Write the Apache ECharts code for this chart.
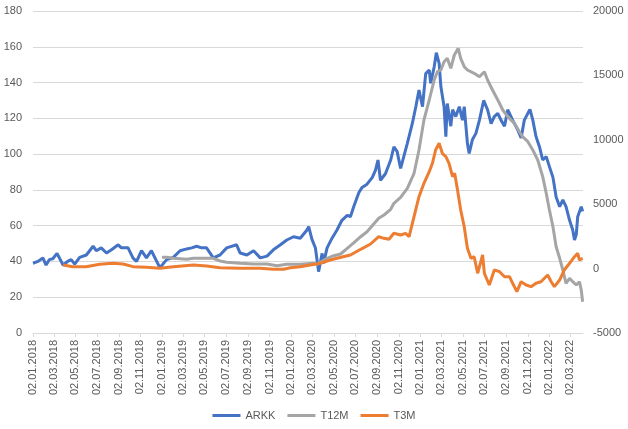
<!DOCTYPE html>
<html>
<head>
<meta charset="utf-8">
<script src="https://cdn.jsdelivr.net/npm/echarts@6/dist/echarts.min.js"></script>
<style>
  html, body { margin: 0; padding: 0; background: #fff; }
  #main { width: 628px; height: 429px; }
</style>
</head>
<body>
<div id="main"></div>
<script>
// ARKK kurs (venstre akse)
var arkk = [
  ['2018-01-02', 39], ['2018-01-16', 40], ['2018-01-30', 42], ['2018-02-08', 38], ['2018-02-17', 41],
  ['2018-02-27', 41.5], ['2018-03-11', 44.5], ['2018-03-28', 38], ['2018-04-10', 40], ['2018-04-20', 41],
  ['2018-04-30', 38.5], ['2018-05-14', 42.3], ['2018-06-02', 43.6], ['2018-06-21', 48.5], ['2018-06-30', 46],
  ['2018-07-14', 47.6], ['2018-07-29', 44.7], ['2018-08-12', 46.5], ['2018-08-31', 49.3], ['2018-09-09', 47.6],
  ['2018-09-28', 47.6], ['2018-10-12', 41.9], ['2018-10-22', 40], ['2018-11-05', 46], ['2018-11-19', 42],
  ['2018-12-03', 46], ['2018-12-18', 40], ['2018-12-27', 36.5], ['2019-01-15', 41], ['2019-02-03', 42.3],
  ['2019-02-22', 46], ['2019-03-13', 47], ['2019-03-27', 47.6], ['2019-04-10', 48.5], ['2019-04-24', 47.6],
  ['2019-05-08', 47.6], ['2019-05-27', 42], ['2019-06-15', 43.6], ['2019-07-04', 47.6], ['2019-08-01', 49.3],
  ['2019-08-11', 44.7], ['2019-08-30', 43.6], ['2019-09-18', 46], ['2019-10-07', 42], ['2019-10-26', 43],
  ['2019-11-13', 46.5], ['2019-12-03', 49.3], ['2019-12-21', 52], ['2020-01-09', 53.8], ['2020-01-28', 53],
  ['2020-02-16', 57.6], ['2020-02-21', 59.4], ['2020-03-01', 52.5], ['2020-03-11', 47.5], ['2020-03-20', 34.3],
  ['2020-03-30', 44.5], ['2020-04-03', 38.9], ['2020-04-13', 47.6], ['2020-04-27', 53], ['2020-05-11', 57.6],
  ['2020-05-25', 63], ['2020-06-09', 65.8], ['2020-06-18', 65], ['2020-06-28', 71], ['2020-07-12', 78.5],
  ['2020-07-21', 81.4], ['2020-08-04', 83.2], ['2020-08-19', 87], ['2020-08-28', 91], ['2020-09-04', 96.7],
  ['2020-09-11', 85.4], ['2020-09-25', 89], ['2020-10-10', 96.7], ['2020-10-19', 104], ['2020-10-28', 101.5],
  ['2020-11-07', 92], ['2020-11-16', 98.6], ['2020-11-26', 106], ['2020-12-10', 117], ['2020-12-20', 126.5],
  ['2020-12-29', 135.8], ['2021-01-08', 126.5], ['2021-01-17', 145], ['2021-01-27', 147], ['2021-01-31', 139.6],
  ['2021-02-10', 148.8], ['2021-02-16', 156.7], ['2021-02-24', 150.7], ['2021-03-01', 137.6], ['2021-03-10', 126.5],
  ['2021-03-15', 109.8], ['2021-03-19', 128.3], ['2021-03-29', 115.6], ['2021-04-03', 124.8], ['2021-04-12', 121],
  ['2021-04-22', 126.5], ['2021-05-01', 119], ['2021-05-06', 126.5], ['2021-05-15', 106], ['2021-05-20', 100.4],
  ['2021-05-29', 108], ['2021-06-08', 111.6], ['2021-06-18', 119], ['2021-06-30', 130], ['2021-07-11', 124.8],
  ['2021-07-21', 117], ['2021-07-30', 121], ['2021-08-09', 122.8], ['2021-08-18', 119], ['2021-08-28', 115.6],
  ['2021-09-06', 124.8], ['2021-09-20', 119], ['2021-10-04', 113.7], ['2021-10-14', 109], ['2021-10-23', 119],
  ['2021-11-02', 122.8], ['2021-11-08', 125], ['2021-11-16', 119], ['2021-11-25', 109.8], ['2021-12-05', 104],
  ['2021-12-14', 96.7], ['2021-12-24', 98.6], ['2022-01-02', 93], ['2022-01-12', 87], ['2022-01-21', 76],
  ['2022-01-31', 70.6], ['2022-02-09', 74.4], ['2022-02-18', 70.6], ['2022-02-28', 63], ['2022-03-09', 57.6],
  ['2022-03-14', 52], ['2022-03-19', 55], ['2022-03-23', 65], ['2022-04-02', 70.6], ['2022-04-06', 68]
];

// T12M (hoyre akse)
var t12m = [
  ['2019-01-02', 877], ['2019-01-15', 877], ['2019-02-03', 800], ['2019-03-13', 722], ['2019-04-01', 800],
  ['2019-05-08', 800], ['2019-05-27', 800], ['2019-06-15', 590], ['2019-07-04', 490], ['2019-08-11', 412],
  ['2019-09-18', 357], ['2019-10-26', 357], ['2019-11-23', 228], ['2019-12-21', 331], ['2020-01-28', 331],
  ['2020-03-06', 412], ['2020-03-15', 331], ['2020-04-13', 800], ['2020-05-02', 1002], ['2020-05-21', 1134],
  ['2020-06-09', 1576], ['2020-06-28', 2012], ['2020-07-17', 2477], ['2020-08-04', 2865], ['2020-08-23', 3463],
  ['2020-09-06', 3905], ['2020-09-21', 4161], ['2020-10-10', 4604], ['2020-10-19', 5070], ['2020-11-07', 5536],
  ['2020-11-26', 6235], ['2020-12-15', 7400], ['2020-12-29', 9208], ['2021-01-12', 11537], ['2021-01-27', 13090],
  ['2021-02-10', 14643], ['2021-02-19', 15288], ['2021-03-01', 15420], ['2021-03-10', 16065], ['2021-03-19', 16327],
  ['2021-03-29', 15550], ['2021-04-08', 16584], ['2021-04-19', 17105], ['2021-04-26', 16327], ['2021-05-06', 15676],
  ['2021-05-15', 15420], ['2021-06-03', 15163], ['2021-06-18', 14900], ['2021-07-02', 15288], ['2021-07-11', 14643],
  ['2021-07-25', 13866], ['2021-08-09', 13090], ['2021-08-23', 12314], ['2021-09-06', 11796], ['2021-09-25', 11278],
  ['2021-10-09', 10630], ['2021-10-18', 10242], ['2021-11-02', 9854], ['2021-11-16', 9208], ['2021-11-30', 8432],
  ['2021-12-14', 7138], ['2021-12-24', 5847], ['2022-01-02', 4550], ['2022-01-12', 3253], ['2022-01-21', 1700],
  ['2022-01-31', 800], ['2022-02-09', -109], ['2022-02-18', -1141], ['2022-02-28', -753], ['2022-03-09', -1017],
  ['2022-03-19', -1273], ['2022-03-28', -1017], ['2022-04-02', -1661], ['2022-04-06', -2570]
];

// T3M (hoyre akse)
var t3m = [
  ['2018-03-28', 279], ['2018-04-25', 150], ['2018-06-01', 150], ['2018-07-10', 331], ['2018-08-16', 412],
  ['2018-09-14', 357], ['2018-10-12', 150], ['2018-11-19', 98], ['2018-12-27', 21], ['2019-02-03', 150],
  ['2019-04-01', 279], ['2019-05-08', 201], ['2019-06-15', 72], ['2019-08-11', 21], ['2019-10-07', 21],
  ['2019-11-13', -54], ['2019-12-12', -54], ['2019-12-31', 72], ['2020-01-28', 150], ['2020-02-25', 279],
  ['2020-03-25', 412], ['2020-04-22', 668], ['2020-05-11', 800], ['2020-06-18', 1056], ['2020-07-17', 1498],
  ['2020-08-14', 1910], ['2020-09-06', 2477], ['2020-09-21', 2350], ['2020-10-05', 2273], ['2020-10-19', 2740],
  ['2020-11-07', 2609], ['2020-11-21', 2740], ['2020-12-01', 2477], ['2020-12-15', 4030], ['2020-12-29', 5583],
  ['2021-01-12', 6623], ['2021-01-27', 7524], ['2021-02-05', 8175], ['2021-02-14', 9208], ['2021-02-24', 9729],
  ['2021-03-05', 8952], ['2021-03-15', 8690], ['2021-03-24', 8175], ['2021-04-03', 7138], ['2021-04-09', 7400],
  ['2021-04-17', 6102], ['2021-04-26', 4550], ['2021-05-06', 3253], ['2021-05-15', 1576], ['2021-05-25', 800],
  ['2021-06-03', 924], ['2021-06-13', -365], ['2021-06-27', 1056], ['2021-07-02', -365], ['2021-07-16', -1273],
  ['2021-07-30', -109], ['2021-08-14', -240], ['2021-08-28', -629], ['2021-09-11', -629], ['2021-09-20', -1141],
  ['2021-10-02', -1791], ['2021-10-14', -1017], ['2021-10-28', -1273], ['2021-11-11', -1403], ['2021-11-25', -1141],
  ['2021-12-09', -1017], ['2021-12-28', -497], ['2022-01-07', -1017], ['2022-01-16', -1403], ['2022-01-31', -885],
  ['2022-02-13', -109], ['2022-02-28', 412], ['2022-03-14', 924], ['2022-03-23', 1188], ['2022-03-28', 668],
  ['2022-04-06', 800]
];

// datoetiketter, hver 2. maned
var tickDates = [
  '2018-01-02', '2018-03-02', '2018-05-02', '2018-07-02', '2018-09-02', '2018-11-02',
  '2019-01-02', '2019-03-02', '2019-05-02', '2019-07-02', '2019-09-02', '2019-11-02',
  '2020-01-02', '2020-03-02', '2020-05-02', '2020-07-02', '2020-09-02', '2020-11-02',
  '2021-01-02', '2021-03-02', '2021-05-02', '2021-07-02', '2021-09-02', '2021-11-02',
  '2022-01-02', '2022-03-02'
];

var txt = { color: '#595959', fontSize: 11, fontFamily: 'Liberation Sans' };

// dato-streng -> tidsstempel, slik at x-aksen kan vaere en vanlig verdiakse
function ts(d) {
  var p = d.split('-');
  return Date.UTC(+p[0], +p[1] - 1, +p[2]);
}
function pad(n) {
  return n < 10 ? '0' + n : '' + n;
}
function toPoints(arr) {
  return arr.map(function (r) { return [ts(r[0]), r[1]]; });
}
var tickValues = tickDates.map(ts);

var myChart = echarts.init(document.getElementById('main'));
myChart.setOption({
  animation: false,
  grid: { left: 33, right: 45, top: 11, bottom: 96, containLabel: false },
  legend: {
    left: 'center',
    top: 405,
    icon: 'rect',
    itemWidth: 28,
    itemHeight: 3,
    itemGap: 12,
    textStyle: txt,
    data: ['ARKK', 'T12M', 'T3M']
  },
  xAxis: {
    type: 'value',
    min: ts('2018-01-02'),
    max: ts('2022-04-07'),
    axisLine: { show: true, lineStyle: { color: '#D9D9D9' } },
    axisTick: { show: true, length: 4, lineStyle: { color: '#D9D9D9' }, customValues: tickValues },
    splitLine: { show: false },
    axisLabel: {
      rotate: 90,
      margin: 7,
      color: txt.color,
      fontSize: 11,
      fontFamily: txt.fontFamily,
      customValues: tickValues,
      formatter: function (val) {
        var d = new Date(val);
        return pad(d.getUTCDate()) + '.' + pad(d.getUTCMonth() + 1) + '.' + d.getUTCFullYear();
      }
    }
  },
  yAxis: [
    {
      type: 'value',
      min: 0,
      max: 180,
      interval: 20,
      axisLine: { show: false },
      axisTick: { show: false },
      splitLine: { lineStyle: { color: '#D9D9D9' } },
      axisLabel: { margin: 11, color: txt.color, fontSize: 11, fontFamily: txt.fontFamily }
    },
    {
      type: 'value',
      min: -5000,
      max: 20000,
      interval: 5000,
      axisLine: { show: false },
      axisTick: { show: false },
      splitLine: { show: false },
      axisLabel: {
        margin: 10, color: txt.color, fontSize: 11, fontFamily: txt.fontFamily,
        formatter: function (v) { return String(v); }
      }
    }
  ],
  series: [
    {
      name: 'ARKK', type: 'line', yAxisIndex: 0, data: toPoints(arkk),
      showSymbol: false, itemStyle: { color: '#4472C4' },
      lineStyle: { color: '#4472C4', width: 3 }
    },
    {
      name: 'T12M', type: 'line', yAxisIndex: 1, data: toPoints(t12m),
      showSymbol: false, itemStyle: { color: '#A5A5A5' },
      lineStyle: { color: '#A5A5A5', width: 3 }
    },
    {
      name: 'T3M', type: 'line', yAxisIndex: 1, data: toPoints(t3m),
      showSymbol: false, itemStyle: { color: '#ED7D31' },
      lineStyle: { color: '#ED7D31', width: 3 }
    }
  ]
});
</script>
</body>
</html>
